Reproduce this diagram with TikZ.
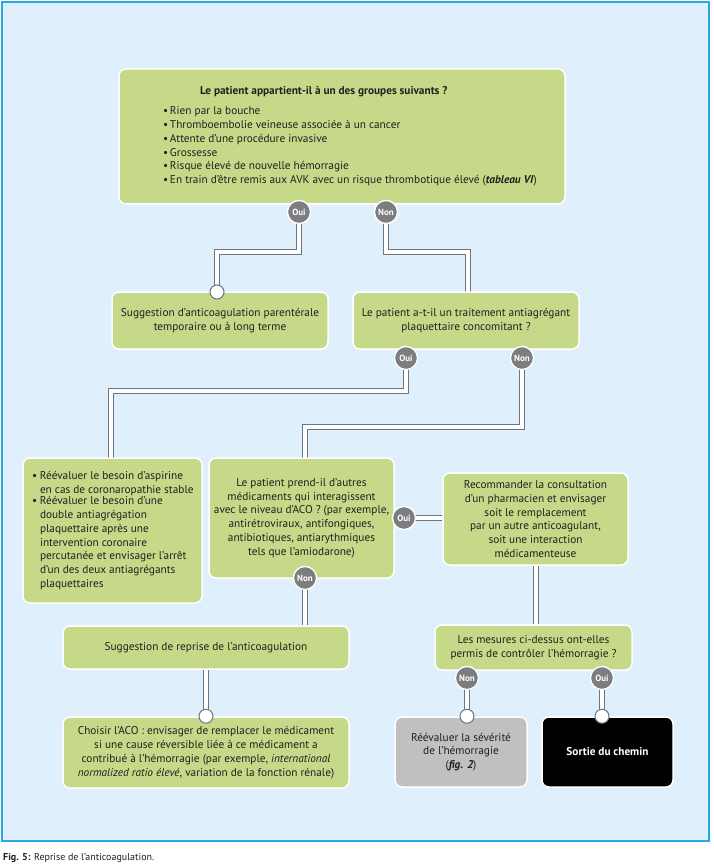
\documentclass[tikz,border=0pt]{standalone}
\usepackage{fontspec}
\setmainfont{PT Sans}
\usetikzlibrary{calc}
\definecolor{bgblue}{RGB}{223,240,252}
\definecolor{frameblue}{RGB}{41,169,224}
\definecolor{boxgreen}{RGB}{198,217,137}
\definecolor{badgegrey}{RGB}{125,125,128}
\definecolor{boxgrey}{RGB}{192,192,192}
\definecolor{conngrey}{RGB}{110,116,128}
\definecolor{txt}{RGB}{35,31,32}
\pgfdeclarelayer{back}
\pgfdeclarelayer{links}
\pgfsetlayers{back,links,main}
\newcommand\bul[1]{\makebox[8pt][l]{\textbullet}\parbox[t]{159pt}{\raggedright #1}}
\newcommand\tb{\makebox[7pt][l]{\textbullet}}
\begin{document}
\begin{tikzpicture}[x=1pt,y=-1pt,
  font=\fontsize{11.3}{13.8}\selectfont, text=txt,
  box/.style={draw=white, line width=1.5pt, fill=boxgreen, rounded corners=7pt, align=center, inner sep=0pt},
  badge/.style={circle, draw=white, line width=1.3pt, fill=badgegrey, minimum size=23pt, inner sep=0pt,
    text=white, font=\fontsize{9}{9}\selectfont\bfseries},
  conn/.style={draw=conngrey, line width=1pt, double=white, double distance=4pt},
  endcirc/.style={circle, draw=conngrey, line width=1pt, fill=white, minimum size=14pt, inner sep=0pt}]
\useasboundingbox (0,0) rectangle (713,866);
\begin{pgfonlayer}{back}
\fill[bgblue] (2,2) rectangle (709,841);
\draw[frameblue, line width=1.5pt] (2,2) rectangle (709,841);
\end{pgfonlayer}

% boxes
\node[box, minimum width=446pt, minimum height=135pt] (top) at (342,136.5)
 {\hspace*{26pt}\parbox{384pt}{\raggedright\hspace*{37pt}\textbf{Le patient appartient-il à un des groupes suivants ?}\par\vspace{6pt}
  \tb Rien par la bouche\\
  \tb Thromboembolie veineuse associée à un cancer\\
  \tb Attente d’une procédure invasive\\
  \tb Grossesse\\
  \tb Risque élevé de nouvelle hémorragie\\
  \tb En train d’être remis aux AVK avec un risque thrombotique élevé (\textbf{\itshape tableau VI})}};
\node[box, minimum width=216pt, minimum height=57pt] (b2) at (220,320.5)
 {Suggestion d’anticoagulation parentérale\\temporaire ou à long terme};
\node[box, minimum width=226pt, minimum height=57pt] (b3) at (466,320.5)
 {Le patient a-t-il un traitement antiagrégant\\plaquettaire concomitant ?};
\node[box, minimum width=179pt, minimum height=145pt] (b4) at (112.5,530.5)
 {\hspace*{6pt}\parbox{167pt}{\bul{Réévaluer le besoin d’aspirine\\en cas de coronaropathie stable}\\
  \bul{Réévaluer le besoin d’une\\double antiagrégation\\plaquettaire après une\\intervention coronaire\\percutanée et envisager l’arrêt\\d’un des deux antiagrégants\\plaquettaires}}};
\node[box, minimum width=185pt, minimum height=120pt] (b5) at (301.5,518)
 {Le patient prend-il d’autres\\médicaments qui interagissent\\avec le niveau d’ACO ? (par exemple,\\antirétroviraux, antifongiques,\\antibiotiques, antiarythmiques\\tels que l’amiodarone)};
\node[box, minimum width=185pt, minimum height=92pt] (b6) at (535.5,519)
 {Recommander la consultation\\d’un pharmacien et envisager\\soit le remplacement\\par un autre anticoagulant,\\soit une interaction\\médicamenteuse};
\node[box, minimum width=286pt, minimum height=43pt] (b7) at (206,647.5)
 {Suggestion de reprise de l’anticoagulation};
\node[box, minimum width=286pt, minimum height=71pt] (b8) at (206,752.5)
 {Choisir l’ACO : envisager de remplacer le médicament\\si une cause réversible liée à ce médicament a\\contribué à l’hémorragie (par exemple, \textit{international}\\\textit{normalized ratio élevé}, variation de la fonction rénale)};
\node[box, minimum width=197pt, minimum height=45pt] (b9) at (533.5,647.5)
 {Les mesures ci-dessus ont-elles\\permis de contrôler l’hémorragie ?};
\node[box, fill=boxgrey, minimum width=132pt, minimum height=70pt] (b10) at (461,752)
 {Réévaluer la sévérité\\de l’hémorragie\\(\textbf{\itshape fig. 2})};
\node[box, fill=black, text=white, minimum width=131pt, minimum height=70pt, font=\fontsize{11.3}{13.8}\selectfont\bfseries] (b11) at (607.5,752)
 {Sortie du chemin};

% badges
\node[badge] (toui) at (299,212) {Oui};
\node[badge] (tnon) at (386,212) {Non};
\node[badge] (b3oui) at (406,358) {Oui};
\node[badge] (b3non) at (522,358) {Non};
\node[badge] (b5oui) at (404,518) {Oui};
\node[badge] (b5non) at (305,578) {Non};
\node[badge] (b9non) at (467,678) {Non};
\node[badge] (b9oui) at (602,678) {Oui};

% connector end points
\coordinate (e1) at (217,292);
\coordinate (e2) at (468,292);
\coordinate (e3) at (111,458);
\coordinate (e4) at (305,458);

\begin{pgfonlayer}{links}
\draw[conn] (toui.center) -- ++(0,40) -| (e1);
\draw[conn] (tnon.center) -- ++(0,40) -| (e2);
\draw[conn] (b3oui.center) -- ++(0,33) -| (e3);
\draw[conn] (b3non.center) -- ++(0,69) -| (e4);
\draw[conn] (b5oui.center) -- (b5oui.center -| b6.west);
\draw[conn] (b5non.center) -- (b5non.center |- b7.north);
\draw[conn] (b7.south) -- (b8.north);
\draw[conn] (b6.south) -- (b6.south |- b9.north);
\draw[conn] (b9non.center) -- (b9non.center |- b10.north);
\draw[conn] (b9oui.center) -- (b9oui.center |- b11.north);
\end{pgfonlayer}

% end circles
\node[endcirc] (c1) at (e1) {};
\node[endcirc] (c2) at (b8.north) {};
\node[endcirc] (c3) at (b9non.center |- b10.north) {};
\node[endcirc] (c4) at (b9oui.center |- b11.north) {};

% caption
\node[anchor=west, inner sep=0pt, font=\fontsize{10}{11}\selectfont] (cap) at (3,858)
 {\textbf{Fig. 5:} Reprise de l’anticoagulation.};
\end{tikzpicture}
\end{document}
